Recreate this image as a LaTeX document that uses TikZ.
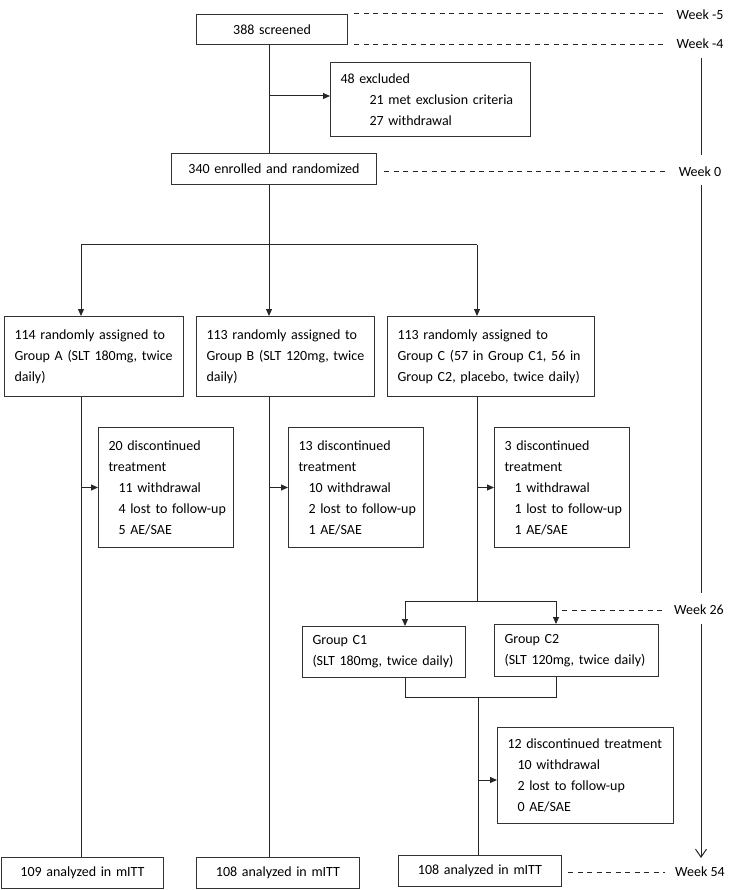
\documentclass[tikz,border=0pt]{standalone}
\usepackage{fontspec}
\setmainfont{Carlito}
\usetikzlibrary{arrows.meta,calc}

\tikzset{
  box/.style 2 args={draw=black!80, rectangle, anchor=north west, inner xsep=10pt,
    inner ysep=0pt, text width=#1, minimum height=#2, align=left},
  cbox/.style 2 args={box={#1}{#2}, align=center},
  flow/.style={-{Triangle[length=7pt,width=6pt]}},
  week/.style={dash pattern=on 5pt off 4.5pt},
  wklabel/.style={inner sep=0pt}
}

\begin{document}
\begin{tikzpicture}[x=1pt, y=-1pt, line width=1pt, draw=black!85,
    every node/.append style={font=\fontsize{14}{21}\selectfont}]

    \useasboundingbox (0,0) rectangle (740,890);

    % boxes
    \node[cbox={131pt}{30pt}] (scr) at (196,14) {388 screened};
    \node[box={180pt}{74pt}] (excl) at (330,62)
      {48 excluded\\\hspace*{29pt}\mbox{21 met exclusion criteria}\\\hspace*{29pt}27 withdrawal};
    \node[cbox={185pt}{31pt}] (enr) at (171,153) {340 enrolled and randomized};

    \node[box={159pt}{80pt}] (grpA) at (4,316)
      {114 randomly assigned to\\\mbox{Group A (SLT 180mg, twice}\\daily)};
    \node[box={158pt}{80pt}] (grpB) at (196,316)
      {113 randomly assigned to\\\mbox{Group B (SLT 120mg, twice}\\daily)};
    \node[box={187pt}{80pt}] (grpC) at (387,316)
      {113 randomly assigned to\\\mbox{Group C (57 in Group C1, 56 in}\\\mbox{Group C2, placebo, twice daily)}};

    \node[box={115pt}{120pt}] (disA) at (98,427)
      {20 discontinued\\treatment\\\hspace*{10pt}11 withdrawal\\\hspace*{10pt}\mbox{4 lost to follow-up}\\\hspace*{10pt}5 AE/SAE};
    \node[box={115pt}{120pt}] (disB) at (288,427)
      {13 discontinued\\treatment\\\hspace*{10pt}10 withdrawal\\\hspace*{10pt}\mbox{2 lost to follow-up}\\\hspace*{10pt}1 AE/SAE};
    \node[box={115pt}{120pt}] (disC) at (494,427)
      {3 discontinued\\treatment\\\hspace*{10pt}1 withdrawal\\\hspace*{10pt}\mbox{1 lost to follow-up}\\\hspace*{10pt}1 AE/SAE};

    \node[box={143pt}{51pt}] (grpC1) at (302,626) {Group C1\\\mbox{(SLT 180mg, twice daily)}};
    \node[box={144pt}{52pt}] (grpC2) at (494,624) {Group C2\\\mbox{(SLT 120mg, twice daily)}};

    \node[box={156pt}{96pt}] (dis12) at (497,727)
      {\mbox{12 discontinued treatment}\\\hspace*{10pt}10 withdrawal\\\hspace*{10pt}\mbox{2 lost to follow-up}\\\hspace*{10pt}0 AE/SAE};

    \node[cbox={142pt}{31pt}] (endA) at (1,857) {109 analyzed in mITT};
    \node[cbox={143pt}{31pt}] (endB) at (196,857) {108 analyzed in mITT};
    \node[cbox={143pt}{31pt}] (endC) at (398,855) {108 analyzed in mITT};

    % week labels
    \node[wklabel] (wk5) at (700,15) {Week -5};
    \node[wklabel] (wk4) at (700,44) {Week -4};
    \node[wklabel] (wk0) at (700,172) {Week 0};
    \node[wklabel] (wk26) at (699,610) {Week 26};
    \node[wklabel] (wk54) at (700,872) {Week 54};

    % junctions
    \coordinate (jx) at (269,96);
    \coordinate (jA) at (81,245);
    \coordinate (jB) at (269,245);
    \coordinate (jC) at (477,245);
    \coordinate (jC1) at (405,601);
    \coordinate (jC2) at (556,601);
    \coordinate (mrg) at (478,697);
    \coordinate (k12) at (478,780);

    % flow
    \draw (jB |- scr.south) -- (jB |- enr.north);
    \draw[flow] (jx) -- (jx -| excl.west);
    \draw[flow] (jB |- enr.south) -- (jB |- grpB.north);
    \draw (jA) -- (jC);
    \draw[flow] (jA) -- (jA |- grpA.north);
    \draw[flow] (jC) -- (jC |- grpC.north);

    \draw (jA |- grpA.south) -- (jA |- endA.north);
    \draw[flow] (jA |- disA.west) -- (disA.west);
    \draw (jB |- grpB.south) -- (jB |- endB.north);
    \draw[flow] (jB |- disB.west) -- (disB.west);
    \draw (jC |- grpC.south) -- (jC |- jC1);
    \draw[flow] (jC |- disC.west) -- (disC.west);

    \draw (jC1) -- (jC2);
    \draw[flow] (jC1) -- (jC1 |- grpC1.north);
    \draw[flow] (jC2) -- (jC2 |- grpC2.north);
    \draw (jC1 |- grpC1.south) -- (jC1 |- mrg) -- (jC2 |- mrg) -- (jC2 |- grpC2.south);
    \draw (mrg) -- (mrg |- endC.north);
    \draw[flow] (k12) -- (k12 -| dis12.west);

    % week marks
    \draw[week] ($(scr.north east)+(6,0)$) -- ($(scr.north east -| wk5.west)+(-10,0)$);
    \draw[week] ($(scr.south east)+(6,0)$) -- ($(scr.south east -| wk4.west)+(-10,0)$);
    \draw[week] ($(enr.east |- wk0)+(7,0)$) -- ($(wk0.west)+(-10,0)$);
    \draw[week] ($(jC2 |- wk26)+(6,0)$) -- ($(wk26.west)+(-10,0)$);
    \draw[week] ($(endC.east |- wk54)+(6,0)$) -- ($(wk54.west)+(-10,0)$);

    % time axis
    \coordinate (t1) at (701,58);
    \coordinate (t2) at (701,155);
    \coordinate (t3) at (701,185);
    \coordinate (t4) at (701,593);
    \coordinate (t5) at (701,624);
    \coordinate (t6) at (701,858);
    \draw (t1) -- (t2);
    \draw (t3) -- (t4);
    \draw[-{Straight Barb[length=8pt,width=11pt]}] (t5) -- (t6);

\end{tikzpicture}
\end{document}
